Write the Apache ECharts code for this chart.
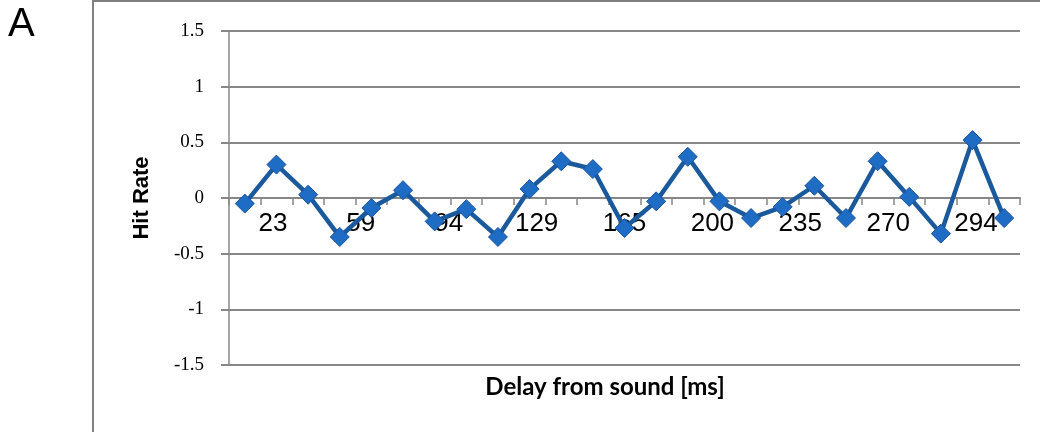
<!DOCTYPE html>
<html>
<head>
<meta charset="utf-8">
<script src="https://cdn.jsdelivr.net/npm/echarts@6/dist/echarts.min.js"></script>
<style>
  html, body { margin: 0; padding: 0; background: #fff; }
  #chart { width: 1040px; height: 432px; }
</style>
</head>
<body>
<div id="chart"></div>
<script>
// Delay bins (ms), one per measurement
const delays = [12, 23, 35, 47, 59, 70, 82, 94, 106, 117, 129, 141, 153,
                165, 176, 188, 200, 212, 223, 235, 247, 259, 270, 282, 294];
// Hit rate at each delay
const hitRate = [-0.05, 0.30, 0.03, -0.35, -0.09, 0.07, -0.21, -0.10, -0.35,
                 0.08, 0.33, 0.26, -0.27, -0.03, 0.37, -0.03, -0.18,
                 -0.08, 0.11, -0.18, 0.33, 0.01, -0.32, 0.52, -0.18];
// Delay labels printed along the zero line
const delayLabels = ['23', '59', '94', '129', '165', '200', '235', '270', '294'];
// Hit-rate axis ticks
const yMin = -1.5, yMax = 1.5, yStep = 0.5;

const chart = echarts.init(document.getElementById('chart'), null, { renderer: 'canvas' });

const gridLine = '#878787';
const gridTop = 31, gridBottom = 67, plotHeight = 432 - gridTop - gridBottom;
// distance from the bottom edge of the plot up to the zero line
const zeroLift = plotHeight * (0 - yMin) / (yMax - yMin);

chart.setOption({
  animation: false,
  backgroundColor: '#ffffff',
  grid: { left: 229, right: 20, top: gridTop, bottom: gridBottom },
  graphic: [
    {
      type: 'rect',
      shape: { x: 93, y: 1, width: 1000, height: 500 },
      style: { fill: 'none', stroke: '#808080', lineWidth: 2 },
      silent: true
    },
    {
      type: 'text',
      left: 8, top: 5,
      style: { text: 'A', font: '40px "Liberation Sans", Arial, sans-serif', fill: '#000' }
    },
    {
      type: 'text',
      x: 605, y: 387,
      style: {
        text: 'Delay from sound [ms]',
        font: 'bold 24px Lato, "Liberation Sans", sans-serif',
        fill: '#000', align: 'center', verticalAlign: 'middle'
      }
    }
  ],
  xAxis: [
    {
      type: 'category',
      data: delays,
      boundaryGap: true,
      position: 'bottom',
      axisLine: { onZero: true, lineStyle: { color: gridLine, width: 2 } },
      axisTick: { show: true, interval: 0, length: 7, lineStyle: { color: gridLine, width: 1.5 } },
      axisLabel: { show: false },
      splitLine: { show: false }
    },
    {
      type: 'category',
      data: delayLabels,
      boundaryGap: true,
      position: 'bottom',
      offset: -zeroLift,
      axisLine: { show: false, onZero: false },
      axisTick: { show: false },
      axisLabel: {
        show: true, interval: 0, margin: 13,
        fontFamily: '"Liberation Sans", Arial, sans-serif', fontSize: 26, color: '#000'
      },
      splitLine: { show: false }
    }
  ],
  yAxis: {
    type: 'value',
    min: yMin, max: yMax, interval: yStep,
    name: 'Hit Rate',
    nameLocation: 'middle',
    nameGap: 76,
    nameRotate: 90,
    nameTextStyle: {
      fontFamily: '"Liberation Sans", Arial, sans-serif',
      fontWeight: 'bold', fontSize: 22, color: '#000'
    },
    axisLine: { show: true, lineStyle: { color: gridLine, width: 1.5 } },
    axisTick: { show: true, length: 8, lineStyle: { color: gridLine, width: 2 } },
    axisLabel: {
      margin: 25,
      fontFamily: '"Liberation Serif", "Times New Roman", serif',
      fontSize: 19, color: '#000',
      formatter: v => String(Math.round(v * 10) / 10)
    },
    splitLine: { show: true, lineStyle: { color: gridLine, width: 2 } }
  },
  series: [{
    type: 'line',
    xAxisIndex: 0,
    data: hitRate,
    symbol: 'diamond',
    symbolSize: 19,
    lineStyle: { color: '#1a5a9c', width: 4.5 },
    itemStyle: { color: '#1f6cc4', borderColor: '#1a55a0', borderWidth: 1 },
    z: 5
  }]
});
</script>
</body>
</html>
